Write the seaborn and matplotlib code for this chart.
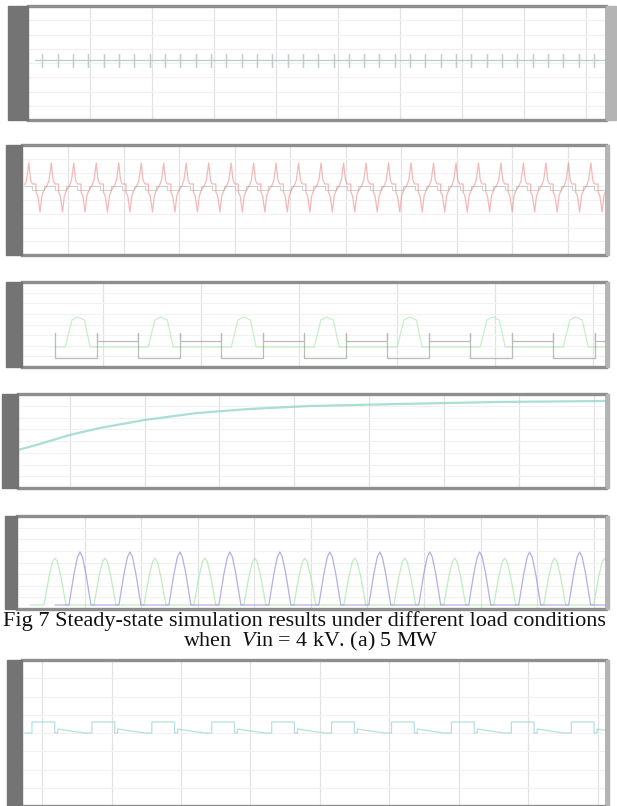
import numpy as np
import pandas as pd
import matplotlib
matplotlib.use("Agg")
import matplotlib.pyplot as plt
import seaborn as sns
from matplotlib.patches import Rectangle

sns.set_style("white")
plt.rcParams['font.family'] = ['Liberation Serif', 'DejaVu Serif']
plt.rcParams['mathtext.fontset'] = 'custom'
plt.rcParams['mathtext.rm'] = 'Liberation Serif'
plt.rcParams['mathtext.it'] = 'Liberation Serif:italic'

# ---- data (y values are pixel offsets) ----
# panel 1: flat line with small spikes
p1_phase = [0.0, 0.5, 0.5, 0.5, 0.5, 1.0]
p1_vals = [0, 0, 6, -7, 0, 0]
p1_start, p1_period, p1_count = 0.11, 0.247, 38

# panel 2: red three-level pulse train + grey steps
p2_phase = [0.0, 0.08, 0.18, 0.26, 0.34, 0.5, 0.5, 0.58, 0.68, 0.76, 0.84, 1.0]
p2_vals = [3, 8, 25, 8, 4, 4, -4, -8, -24, -8, -3, 3]
p2_grey_phase = [0.0, 0.34, 0.34, 0.84, 0.84, 1.0]
p2_grey_vals = [2, 2, -2, -2, 2, 2]
p2_start, p2_period, p2_count = -0.78, 0.405, 26

# panel 3: grey switching line and green trapezoid pulses
p3_grey_phase = [0.0, 0.0, 0.5, 0.5, 0.5, 1.0]
p3_grey_vals = [24, -1, -1, 24, 16, 16]
p3_green_phase = [0.0, 0.12, 0.2, 0.27, 0.35, 0.42, 1.0]
p3_green_vals = [10, 10, 37, 40, 37, 10, 10]
p3_start, p3_period, p3_count = -0.49, 0.847, 7

# panel 4: slowly rising curve (x in grid units, y px above frame bottom)
p4_t = [-0.69, -0.4, 0.0, 0.4, 1.0, 1.7, 2.4, 3.2, 4.4, 5.7, 7.16]
p4_v = [38, 44, 53, 60, 68, 75, 79, 82, 84, 86, 87]

# panel 5: alternating green / blue pulses
p5_phase = [0.0, 0.28, 0.38, 0.45, 0.5, 0.55, 0.62, 0.72, 1.0]
p5_blue = [4, 4, 35, 52, 57, 52, 35, 4, 4]
p5_green = [4, 4, 32, 47, 51, 47, 32, 4, 4]
p5_start, p5_slot, p5_pairs = -0.97, 0.442, 12

# panel 6: small square wave
p6_phase = [0.0, 0.12, 0.12, 0.5, 0.5, 0.55, 0.55, 1.0]
p6_vals = [-5, -5, 6, 6, -5, -5, -1, -5]
p6_start, p6_period, p6_count = -0.25, 0.863, 10

caption1 = "Fig 7 Steady-state simulation results under different load conditions"
caption2 = r"when  $\mathit{V}$in = 4 kV. (a) 5 MW"


def tile(phase, vals, start, period, count):
    ph = np.asarray(phase)
    xs = np.concatenate([start + (k + ph) * period for k in range(count)])
    ys = np.tile(vals, count)
    return pd.DataFrame({"t": xs, "v": ys})


W, H = 617, 806
fig = plt.figure(figsize=(W / 100, H / 100), dpi=100)


def panel(left, right, top, bottom, strip_left, xlim, ylim, grid_x, rstrip=3):
    ax = fig.add_axes([left / W, 1 - bottom / H, (right - left) / W, (bottom - top) / H])
    fig.patches.append(Rectangle((strip_left / W, 1 - bottom / H),
                                 (left - strip_left) / W, (bottom - top) / H,
                                 transform=fig.transFigure, color="#747474", zorder=0))
    fig.patches.append(Rectangle((right / W, 1 - bottom / H), rstrip / W, (bottom - top) / H,
                                 transform=fig.transFigure, color="#b4b4b4", zorder=0))
    ax.set_xlim(*xlim)
    ax.set_ylim(*ylim)
    ax.set_xticks(grid_x)
    ax.set_yticks(np.linspace(ylim[0], ylim[1], 9)[1:-1])
    ax.xaxis.grid(True, color="#e2e2e2", linewidth=0.9)
    ax.yaxis.grid(True, color="#f1f1f1", linewidth=0.8)
    ax.tick_params(direction="in", length=3, color="#999999", labelbottom=False, labelleft=False)
    for s in ax.spines.values():
        s.set_color("#8e8e8e")
        s.set_linewidth(2.4)
    ax.spines["left"].set_visible(False)
    ax.spines["right"].set_linewidth(1.2)
    ax.spines["right"].set_color("#a8a8a8")
    return ax


def draw(ax, df, color, lw=0.9, alpha=0.8):
    sns.lineplot(data=df, x="t", y="v", ax=ax, color=color, linewidth=lw, alpha=alpha,
                 estimator=None, sort=False)
    ax.set_xlabel("")
    ax.set_ylabel("")


# panel 1
ax1 = panel(28, 606, 6, 120, 8, (0, 9.32), (-60, 54), range(1, 10), rstrip=10)
draw(ax1, tile(p1_phase, p1_vals, p1_start, p1_period, p1_count), "#8aa6a6", 0.9, 0.55)

# panel 2
ax2 = panel(22, 606, 145, 255, 6, (-0.83, 9.69), (-67, 43), range(0, 10))
draw(ax2, tile(p2_grey_phase, p2_grey_vals, p2_start, p2_period, p2_count), "#a6b4a6", 0.8, 0.55)
draw(ax2, tile(p2_phase, p2_vals, p2_start, p2_period, p2_count), "#ec8a8a", 0.9, 0.6)

# panel 3
ax3 = panel(22, 606, 282, 367, 6, (-0.83, 5.13), (-10, 75), range(0, 6))
draw(ax3, tile(p3_green_phase, p3_green_vals, p3_start, p3_period, p3_count), "#a2e6a2", 0.9, 0.6)
draw(ax3, tile(p3_grey_phase, p3_grey_vals, p3_start, p3_period, p3_count), "#7d8a7d", 0.9, 0.55)

# panel 4
ax4 = panel(18, 606, 394, 488, 2, (-0.69, 7.16), (0, 94), range(0, 8))
draw(ax4, pd.DataFrame({"t": p4_t, "v": p4_v}), "#8fd3c6", 1.6, 0.75)

# panel 5
ax5 = panel(17, 606, 516, 609, 5, (-1.2, 9.22), (0, 93), range(0, 10))
draw(ax5, tile(p5_phase, p5_green, p5_start, 2 * p5_slot, p5_pairs), "#a4e6a4", 0.9, 0.7)
draw(ax5, tile(p5_phase, p5_blue, p5_start + p5_slot, 2 * p5_slot, p5_pairs), "#948ede", 0.9, 0.7)

# panel 6
ax6 = panel(22, 606, 660, 806, 7, (-0.29, 8.12), (-78, 68), range(0, 9))
draw(ax6, tile(p6_phase, p6_vals, p6_start, p6_period, p6_count), "#86cccc", 0.9, 0.6)

# caption
fig.text(3 / W, 1 - 621 / H, caption1, fontsize=16.0, va="center", ha="left", color="#111111")
fig.text(311 / W, 1 - 641 / H, caption2, fontsize=15.8, va="center", ha="center", color="#111111")

fig.savefig("out.png", dpi=100)
